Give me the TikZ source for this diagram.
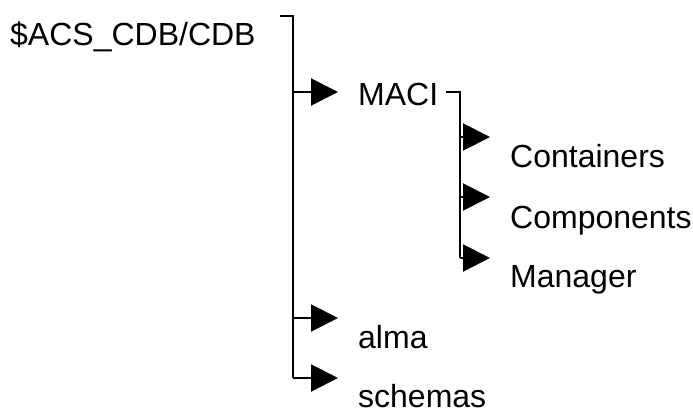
\documentclass[tikz,border=0pt]{standalone}
\usepackage{fontspec}
\setmainfont{Liberation Sans}
\usetikzlibrary{arrows.meta,positioning}
\tikzset{
       arr/.style = {-{Triangle[length=27pt,width=27pt]}, line width=2pt},   % branch arrows
    branch/.style = {line width=2pt},
      item/.style = {anchor=base west, inner sep=0pt,
                     font=\fontsize{32}{38}\selectfont},
}
\begin{document}
\begin{tikzpicture}[x=1pt,y=-1pt]
\useasboundingbox (0,0) rectangle (693,410);
% folder names
\node[item] (root) at (10,45) {\$ACS\_CDB/CDB};
\node[item] (maci) at (358,105) {MACI};
\node[item] (containers) at (510,167) {Containers};
\node[item] (components) at (510,228) {Components};
\node[item] (manager) at (510,287) {Manager};
\node[item] (alma) at (358,348) {alma};
\node[item] (schemas) at (358,407) {schemas};
% arrow tips
\coordinate (t-maci) at (338,92);
\coordinate (t-alma) at (338,318);
\coordinate (t-schemas) at (338,378);
\coordinate (t-containers) at (490,137);
\coordinate (t-components) at (490,197);
\coordinate (t-manager) at (490,258);
% buses
\coordinate (top) at (280,16);
\coordinate (bus) at (293,16);
\coordinate (sub) at (460,92);
\draw[branch] (top) -- (bus) -- (bus |- t-schemas);
\draw[branch] (maci.east |- sub) ++(8,0) -- (sub) -- (sub |- t-manager);
\foreach \n in {maci,alma,schemas}
  \draw[arr] (bus |- t-\n) -- (t-\n);
\foreach \n in {containers,components,manager}
  \draw[arr] (sub |- t-\n) -- (t-\n);
\end{tikzpicture}
\end{document}
